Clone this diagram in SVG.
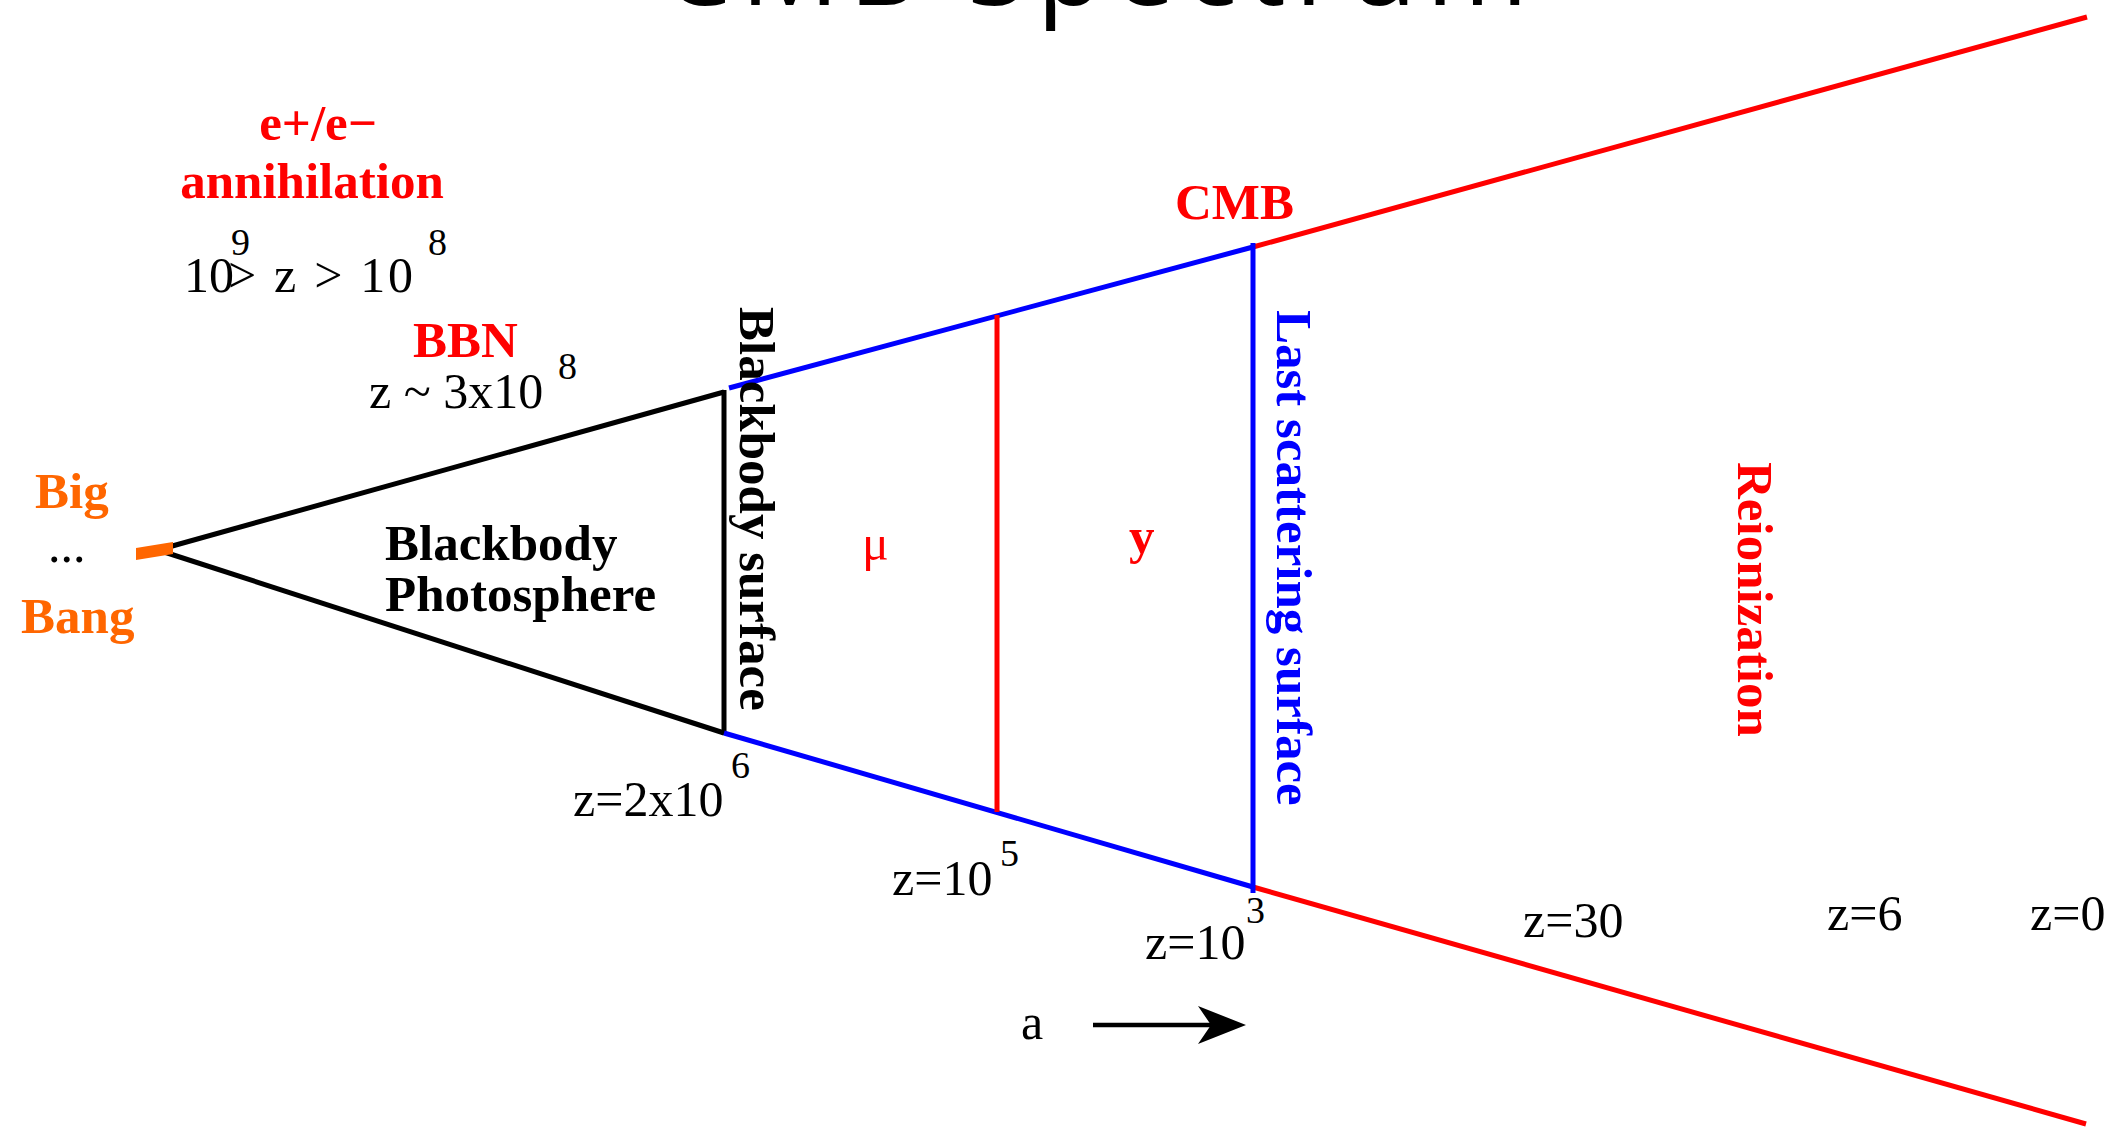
<svg xmlns="http://www.w3.org/2000/svg" width="2113" height="1127" viewBox="0 0 2113 1127">
  <style>
    .lbl { font-family: "Liberation Serif", "Times New Roman", serif; font-size: 50px; fill: #000; }
    .sup { font-family: "Liberation Serif", "Times New Roman", serif; font-size: 38px; fill: #000; }
    .bold { font-weight: bold; font-size: 51px; }
    .red { fill: #ff0000; }
    .blue { fill: #0000ff; }
    .orange { fill: #ff6600; }
    .title { font-family: "Open Sans", "Noto Sans", sans-serif; font-size: 110px; fill: #000; }
    .ln { fill: none; stroke-width: 5; stroke-linecap: butt; }
    .k { stroke: #000; }
    .r { stroke: #ff0000; }
    .b { stroke: #0000ff; }
  </style>
  <rect width="2113" height="1127" fill="#fff"/>

  <g id="title">
    <text class="title" x="662" y="5" textLength="866" lengthAdjust="spacing">CMB Spectrum</text>
  </g>

  <g id="connectors">
    <!-- Blackbody photosphere triangle -->
    <line class="ln k" x1="158" y1="550" x2="724" y2="392"/>
    <line class="ln k" x1="158" y1="550" x2="724" y2="733"/>
    <line class="ln k" x1="724" y1="390" x2="724" y2="735"/>
    <!-- blue segments -->
    <line class="ln b" x1="729" y1="388" x2="1253" y2="247"/>
    <line class="ln b" x1="724" y1="733" x2="1253" y2="887"/>
    <!-- red segments after CMB -->
    <line class="ln r" x1="1253" y1="247" x2="2087" y2="17"/>
    <line class="ln r" x1="1253" y1="887" x2="2086" y2="1124"/>
    <!-- mu / y boundary -->
    <line class="ln r" x1="997" y1="315" x2="997" y2="812"/>
    <!-- last scattering surface -->
    <line class="ln b" x1="1253" y1="243" x2="1253" y2="893"/>
    <!-- a arrow -->
    <line x1="1093" y1="1025" x2="1215" y2="1025" stroke="#000" stroke-width="4.5"/>
    <path d="M1246,1025 L1198,1006 L1211,1025 L1198,1044 Z" fill="#000"/>
  </g>

  <g id="bigbang">
    <path d="M136,548 L173,542 L173,554 L136,560 Z" fill="#ff6600"/>
    <text class="lbl bold orange" x="35" y="508">Big</text>
    <text class="lbl" x="48" y="562">...</text>
    <text class="lbl bold orange" x="21" y="633">Bang</text>
  </g>

  <g id="annihilation">
    <text class="lbl bold red" x="318" y="140" text-anchor="middle">e+/e−</text>
    <text class="lbl bold red" x="312" y="198" text-anchor="middle">annihilation</text>
    <text class="lbl" x="184" y="292">10</text>
    <text class="sup" x="231" y="255">9</text>
    <text class="lbl" x="228" y="292" textLength="185" lengthAdjust="spacing">&gt; z &gt; 10</text>
    <text class="sup" x="428" y="255">8</text>
  </g>

  <g id="bbn">
    <text class="lbl bold red" x="413" y="357">BBN</text>
    <text class="lbl" x="369" y="408">z ~ 3x10</text>
    <text class="sup" x="558" y="379">8</text>
  </g>

  <g id="photosphere">
    <text class="lbl bold" x="385" y="560">Blackbody</text>
    <text class="lbl bold" x="385" y="611">Photosphere</text>
  </g>

  <g id="blackbody-surface">
    <text class="lbl bold" transform="translate(740,307) rotate(90)">Blackbody surface</text>
    <text class="lbl" x="573" y="816">z=2x10</text>
    <text class="sup" x="731" y="778">6</text>
  </g>

  <g id="mu-region">
    <text class="lbl red" x="862" y="560">μ</text>
  </g>

  <g id="mu-y-boundary">
    <text class="lbl" x="892" y="895">z=10</text>
    <text class="sup" x="1000" y="866">5</text>
  </g>

  <g id="y-region">
    <text class="lbl bold red" x="1129" y="553">y</text>
  </g>

  <g id="last-scattering">
    <text class="lbl bold red" x="1175" y="219">CMB</text>
    <text class="lbl bold blue" transform="translate(1277,310) rotate(90)">Last scattering surface</text>
    <text class="lbl" x="1145" y="959">z=10</text>
    <text class="sup" x="1246" y="923">3</text>
  </g>

  <g id="reionization">
    <text class="lbl bold red" transform="translate(1738,462) rotate(90)">Reionization</text>
    <text class="lbl" x="1523" y="937">z=30</text>
    <text class="lbl" x="1827" y="930">z=6</text>
    <text class="lbl" x="2030" y="930">z=0</text>
  </g>

  <g id="scale-factor">
    <text class="lbl" x="1021" y="1039">a</text>
  </g>
</svg>
